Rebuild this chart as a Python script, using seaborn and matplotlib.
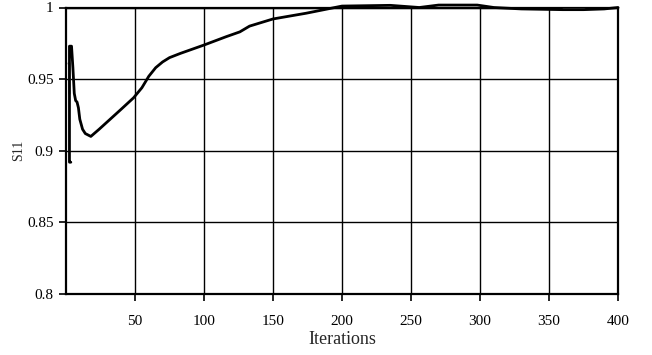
import matplotlib
matplotlib.use("Agg")
import matplotlib.pyplot as plt
import seaborn as sns
import pandas as pd

# Main (black) series
iterations = [3.5, 2.5, 2.5, 4, 5, 6, 7, 8, 9, 10,
              12, 14, 18, 24, 32, 40, 49, 55, 60, 65,
              70, 75, 83, 100, 116, 126, 133, 150, 174, 200,
              235, 256, 270, 298, 310, 330, 360, 375, 390, 400]
s11 = [0.892, 0.892, 0.973, 0.973, 0.958, 0.940, 0.935, 0.934, 0.930, 0.922,
       0.915, 0.912, 0.910, 0.915, 0.922, 0.929, 0.937, 0.944, 0.952, 0.958,
       0.962, 0.965, 0.968, 0.9738, 0.9796, 0.983, 0.987, 0.992, 0.996, 1.001,
       1.0015, 1.0, 1.0017, 1.0017, 1.0, 0.999, 0.9985, 0.9985, 0.999, 1.0]

# Secondary (grey) series, visible only where it departs from the black one
iterations_grey = [1.5, 2, 2, 360, 375]
s11_grey = [0.961, 0.961, 0.94, 0.9993, 0.9993]
segment_grey = [0, 0, 0, 1, 1]

x_ticks = [50, 100, 150, 200, 250, 300, 350, 400]
y_ticks = [0.8, 0.85, 0.9, 0.95, 1.0]
y_tick_labels = ["0.8", "0.85", "0.9", "0.95", "1"]

sns.set_style("white")
plt.rcParams["font.family"] = ["Liberation Serif", "DejaVu Serif"]

fig = plt.figure(figsize=(6.52, 3.55), dpi=100)
ax = fig.add_axes([66 / 652, 1 - 294 / 355, (618 - 66) / 652, (294 - 7.5) / 355])

df = pd.DataFrame({"it": iterations, "s11": s11})
dfg = pd.DataFrame({"it": iterations_grey, "s11": s11_grey, "seg": segment_grey})

ax.set_xlim(0, 400)
ax.set_ylim(0.8, 1.0)
ax.set_xticks(x_ticks)
ax.set_yticks(y_ticks)
ax.set_yticklabels(y_tick_labels)
ax.grid(True, color="black", linewidth=1.0)
ax.set_axisbelow(True)

sns.lineplot(data=dfg, x="it", y="s11", units="seg", sort=False, estimator=None,
             color="#8c8c8c", linewidth=1.8, ax=ax, clip_on=False, zorder=3)
sns.lineplot(data=df, x="it", y="s11", sort=False, estimator=None, color="black",
             linewidth=2.0, ax=ax, clip_on=False, zorder=4)

for side in ["left", "bottom", "right", "top"]:
    ax.spines[side].set_color("black")
    ax.spines[side].set_linewidth(1.6)

ax.tick_params(axis="both", which="both", direction="out", length=5, width=1.2,
               color="black", labelsize=11, labelcolor="black")
ax.tick_params(axis="x", pad=10, bottom=True)
ax.tick_params(axis="y", pad=4, left=True)

ax.set_xlabel("Iterations", fontsize=13, labelpad=2)
ax.set_ylabel("S11", fontsize=10)
ax.yaxis.set_label_coords(-0.074, 0.5)

fig.savefig("out.png", dpi=100)
